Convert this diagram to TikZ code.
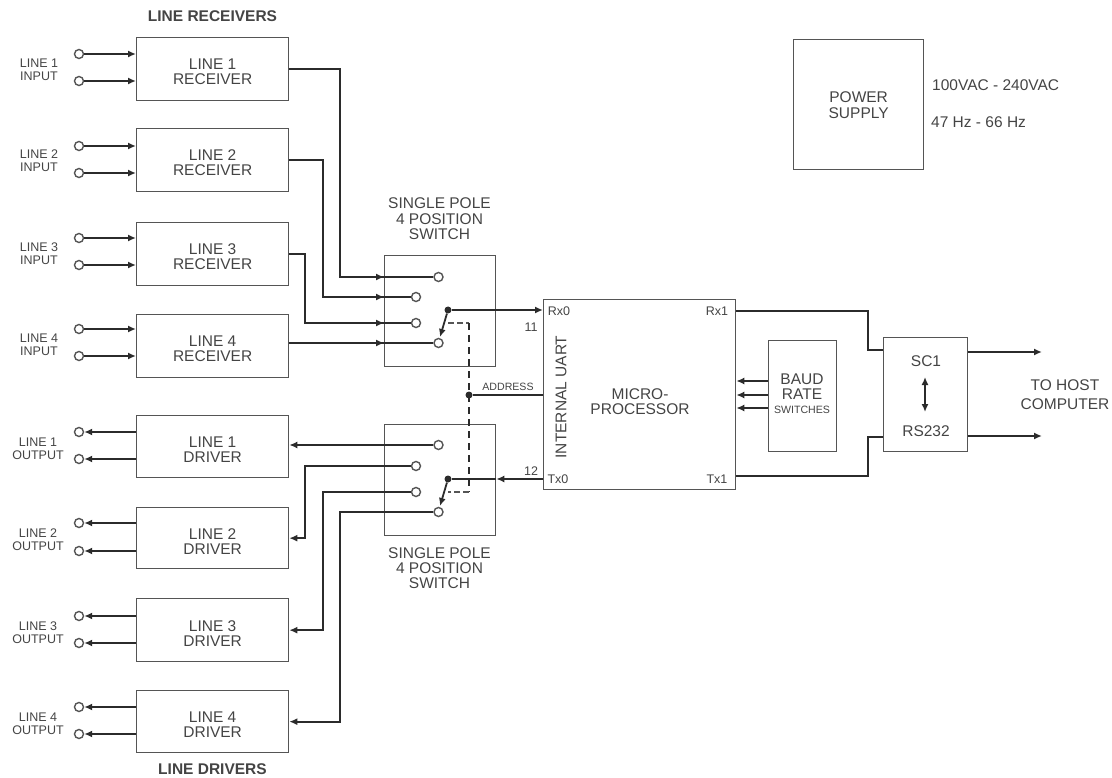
\documentclass[tikz,border=0pt]{standalone}
\usepackage{fontspec}
\setmainfont{Liberation Sans}
\usetikzlibrary{arrows.meta}
\definecolor{inkline}{HTML}{2B2B2B}
\definecolor{boxline}{HTML}{555555}
\definecolor{inktext}{HTML}{444444}
\tikzset{
	x=1pt,y=-1pt,
	block/.style={draw=boxline,line width=1.3pt,fill=white,text=inktext,font=\fontsize{15.5}{15}\selectfont,inner sep=0pt,anchor=north west},
	blockt/.style={block,text height=28pt},
	blockd/.style={block,text height=30pt},
	lbl/.style={text=inktext,font=\fontsize{12.5}{13}\selectfont,inner sep=0pt},
	bigl/.style={text=inktext,font=\fontsize{15.5}{15}\selectfont,inner sep=0pt},
	headl/.style={text=inktext,font=\bfseries\fontsize{15.5}{15}\selectfont,inner sep=0pt},
	small/.style={text=inktext,font=\fontsize{10.6}{12}\selectfont,inner sep=0pt},
	contact/.style={circle,draw=boxline,line width=1.4pt,fill=white,minimum size=9pt,inner sep=0pt},
	pole/.style={circle,fill=inkline,minimum size=7pt,inner sep=0pt},
	wire/.style={draw=inkline,line width=1.8pt},
	tipwire/.style={wire,-{Latex[length=8pt,width=7pt]}},
	twotip/.style={wire,{Latex[length=8pt,width=7pt]}-{Latex[length=8pt,width=7pt]}},
	addrline/.style={draw=inkline,line width=1.9pt,dash pattern=on 7pt off 5pt},
	addrthin/.style={draw=boxline,line width=1.1pt,dash pattern=on 6pt off 3pt}
}
\begin{document}
\begin{tikzpicture}
	\useasboundingbox (0,0) rectangle (1112,778);

	\node[headl] (rxhead) at (212.5,16){LINE RECEIVERS};
	\node[headl] (txhead) at (212.5,769.5){LINE DRIVERS};

	% receivers
	\node[blockt,minimum width=152pt,minimum height=63pt] (r1) at (136,37){\begin{tabular}{c}LINE 1\\RECEIVER\end{tabular}};
	\node[blockt,minimum width=152pt,minimum height=63pt] (r2) at (136,128){\begin{tabular}{c}LINE 2\\RECEIVER\end{tabular}};
	\node[blockt,minimum width=152pt,minimum height=63pt] (r3) at (136,222){\begin{tabular}{c}LINE 3\\RECEIVER\end{tabular}};
	\node[blockt,minimum width=152pt,minimum height=63pt] (r4) at (136,314){\begin{tabular}{c}LINE 4\\RECEIVER\end{tabular}};

	\node[lbl] (in1) at (39,71){\begin{tabular}{c}LINE 1\\INPUT\end{tabular}};
	\node[lbl] (in2) at (39,162){\begin{tabular}{c}LINE 2\\INPUT\end{tabular}};
	\node[lbl] (in3) at (39,255){\begin{tabular}{c}LINE 3\\INPUT\end{tabular}};
	\node[lbl] (in4) at (39,346){\begin{tabular}{c}LINE 4\\INPUT\end{tabular}};

	\node[contact] (ia1) at (79,54){};
	\node[contact] (ib1) at (79,81){};
	\node[contact] (ia2) at (79,146){};
	\node[contact] (ib2) at (79,173){};
	\node[contact] (ia3) at (79,238){};
	\node[contact] (ib3) at (79,265){};
	\node[contact] (ia4) at (79,329){};
	\node[contact] (ib4) at (79,356){};

	\draw[tipwire] (ia1) -- (ia1 -| r1.west);
	\draw[tipwire] (ib1) -- (ib1 -| r1.west);
	\draw[tipwire] (ia2) -- (ia2 -| r2.west);
	\draw[tipwire] (ib2) -- (ib2 -| r2.west);
	\draw[tipwire] (ia3) -- (ia3 -| r3.west);
	\draw[tipwire] (ib3) -- (ib3 -| r3.west);
	\draw[tipwire] (ia4) -- (ia4 -| r4.west);
	\draw[tipwire] (ib4) -- (ib4 -| r4.west);

	% drivers
	\node[blockd,minimum width=152pt,minimum height=62pt] (d1) at (136,415){\begin{tabular}{c}LINE 1\\DRIVER\end{tabular}};
	\node[blockd,minimum width=152pt,minimum height=61pt] (d2) at (136,507){\begin{tabular}{c}LINE 2\\DRIVER\end{tabular}};
	\node[blockd,minimum width=152pt,minimum height=63pt] (d3) at (136,598){\begin{tabular}{c}LINE 3\\DRIVER\end{tabular}};
	\node[blockd,minimum width=152pt,minimum height=62pt] (d4) at (136,690){\begin{tabular}{c}LINE 4\\DRIVER\end{tabular}};

	\node[lbl] (out1) at (38,450.5){\begin{tabular}{c}LINE 1\\OUTPUT\end{tabular}};
	\node[lbl] (out2) at (38,541.5){\begin{tabular}{c}LINE 2\\OUTPUT\end{tabular}};
	\node[lbl] (out3) at (38,634.5){\begin{tabular}{c}LINE 3\\OUTPUT\end{tabular}};
	\node[lbl] (out4) at (38,725.5){\begin{tabular}{c}LINE 4\\OUTPUT\end{tabular}};

	\node[contact] (oa1) at (79,432){};
	\node[contact] (ob1) at (79,459){};
	\node[contact] (oa2) at (79,523){};
	\node[contact] (ob2) at (79,551){};
	\node[contact] (oa3) at (79,616){};
	\node[contact] (ob3) at (79,643){};
	\node[contact] (oa4) at (79,707){};
	\node[contact] (ob4) at (79,734){};

	\draw[tipwire] (oa1 -| d1.west) -- (oa1);
	\draw[tipwire] (ob1 -| d1.west) -- (ob1);
	\draw[tipwire] (oa2 -| d2.west) -- (oa2);
	\draw[tipwire] (ob2 -| d2.west) -- (ob2);
	\draw[tipwire] (oa3 -| d3.west) -- (oa3);
	\draw[tipwire] (ob3 -| d3.west) -- (ob3);
	\draw[tipwire] (oa4 -| d4.west) -- (oa4);
	\draw[tipwire] (ob4 -| d4.west) -- (ob4);

	% switches
	\node[bigl] (swtxt1) at (439.5,221){\begin{tabular}{c}SINGLE POLE\\4 POSITION\\SWITCH\end{tabular}};
	\node[bigl] (swtxt2) at (439.5,570.5){\begin{tabular}{c}SINGLE POLE\\4 POSITION\\SWITCH\end{tabular}};

	\node[block,minimum width=111pt,minimum height=111pt] (sw1) at (384,255){};
	\node[block,minimum width=111pt,minimum height=111pt] (sw2) at (384,424){};

	\coordinate (ra1) at (340,277);
	\coordinate (ra2) at (323,297);
	\coordinate (ra3) at (305,323);

	\node[contact] (c1) at (438.5,277){};
	\node[contact] (c2) at (416,297){};
	\node[contact] (c3) at (416,323){};
	\node[contact] (c4) at (438.5,343){};
	\node[pole] (p1) at (448,310){};

	\node[contact] (e1) at (438.5,445){};
	\node[contact] (e2) at (416,466){};
	\node[contact] (e3) at (416,492){};
	\node[contact] (e4) at (438.5,512){};
	\node[pole] (p2) at (448,479){};

	\draw[wire] (r1.east) -| (ra1) -- (c1);
	\draw[wire] (r2.east) -| (ra2) -- (c2);
	\draw[wire] (r3.east) -| (ra3) -- (c3);
	\draw[wire] (r4.east |- c4) -- (c4);
	\draw[tipwire] (ra1) -- (c1 -| sw1.west);
	\draw[tipwire] (ra2) -- (c2 -| sw1.west);
	\draw[tipwire] (ra3) -- (c3 -| sw1.west);
	\draw[tipwire] (r4.east |- c4) -- (c4 -| sw1.west);
	\draw[tipwire] (p1) -- (440,337);
	\draw[tipwire] (p2) -- (440,506);

	\coordinate (da2) at (305,466);
	\coordinate (da3) at (323,492);
	\coordinate (da4) at (340,512);
	\draw[tipwire] (e1) -- (e1 -| d1.east);
	\draw[tipwire] (e2) -- (da2) |- (d2.east);
	\draw[tipwire] (e3) -- (da3) |- (d3.east);
	\draw[tipwire] (e4) -- (da4) |- (d4.east);

	% microprocessor
	\node[block,minimum width=192pt,minimum height=190pt] (mp) at (543,299){};
	\node[bigl] (mptxt) at (640,404){\begin{tabular}{c}MICRO-\\PROCESSOR\end{tabular}};
	\node[bigl,rotate=90] (uart) at (561,397){INTERNAL UART};
	\node[lbl] (rx0) at (559,311){Rx0};
	\node[lbl] (tx0) at (558,479){Tx0};
	\node[lbl] (rx1) at (717,311){Rx1};
	\node[lbl] (tx1) at (717,479){Tx1};
	\node[lbl] (n11) at (531,327){11};
	\node[lbl] (n12) at (531,471){12};
	\node[small] (addr) at (508,387){ADDRESS};

	\node[pole] (addot) at (469,395){};
	\coordinate (da1) at (448,323);
	\coordinate (db1) at (469,323);
	\coordinate (da5) at (469,492);
	\coordinate (db5) at (448,492);
	\draw[addrthin] (da1) -- (db1);
	\draw[addrline] (db1) -- (da5);
	\draw[addrthin] (da5) -- (db5);
	\draw[wire] (addot) -- (addot -| mp.west);
	\draw[tipwire] (p1) -- (p1 -| mp.west);
	\draw[tipwire] (p2 -| mp.west) -- (p2 -| sw2.east);
	\draw[wire] (p2 -| sw2.east) -- (p2);

	% baud rate
	\node[block,minimum width=68pt,minimum height=111pt] (baud) at (768,340){};
	\node[bigl] (baudtxt) at (802,389){\begin{tabular}{c}BAUD\\RATE\end{tabular}};
	\node[small] (swbaud) at (802,410){SWITCHES};
	\coordinate (ba) at (768,381);
	\coordinate (bb) at (768,395);
	\coordinate (bc) at (768,408);
	\draw[tipwire] (ba) -- (ba -| mp.east);
	\draw[tipwire] (bb) -- (bb -| mp.east);
	\draw[tipwire] (bc) -- (bc -| mp.east);

	% serial
	\node[block,minimum width=84pt,minimum height=114pt] (sc) at (883,337){};
	\node[bigl] (sc1) at (926,361){SC1};
	\node[bigl] (rs232) at (926,431){RS232};
	\coordinate (dbla) at (925,377);
	\coordinate (dblb) at (925,412);
	\draw[twotip] (dbla) -- (dblb);
	\coordinate (rxa) at (868,311);
	\coordinate (rxb) at (868,350);
	\coordinate (txa) at (868,476);
	\coordinate (txb) at (868,437);
	\draw[wire,line width=2.2pt] (mp.east |- rxa) -- (rxa) -- (rxb) -- (rxb -| sc.west);
	\draw[wire,line width=2.2pt] (mp.east |- txa) -- (txa) -- (txb) -- (txb -| sc.west);
	\coordinate (ha) at (1042,352);
	\coordinate (hb) at (1042,436);
	\draw[tipwire] (ha -| sc.east) -- (ha);
	\draw[tipwire] (hb -| sc.east) -- (hb);
	\node[bigl] (host) at (1065,396.5){\begin{tabular}{c}TO HOST\\[4pt]COMPUTER\end{tabular}};

	% power supply
	\node[block,text height=24pt,minimum width=130pt,minimum height=130pt] (ps) at (793,39){\begin{tabular}{c}POWER\\SUPPLY\end{tabular}};
	\node[bigl,anchor=west] (vac) at (932,85){100VAC - 240VAC};
	\node[bigl,anchor=west] (hz) at (931,122){47 Hz - 66 Hz};
\end{tikzpicture}
\end{document}
